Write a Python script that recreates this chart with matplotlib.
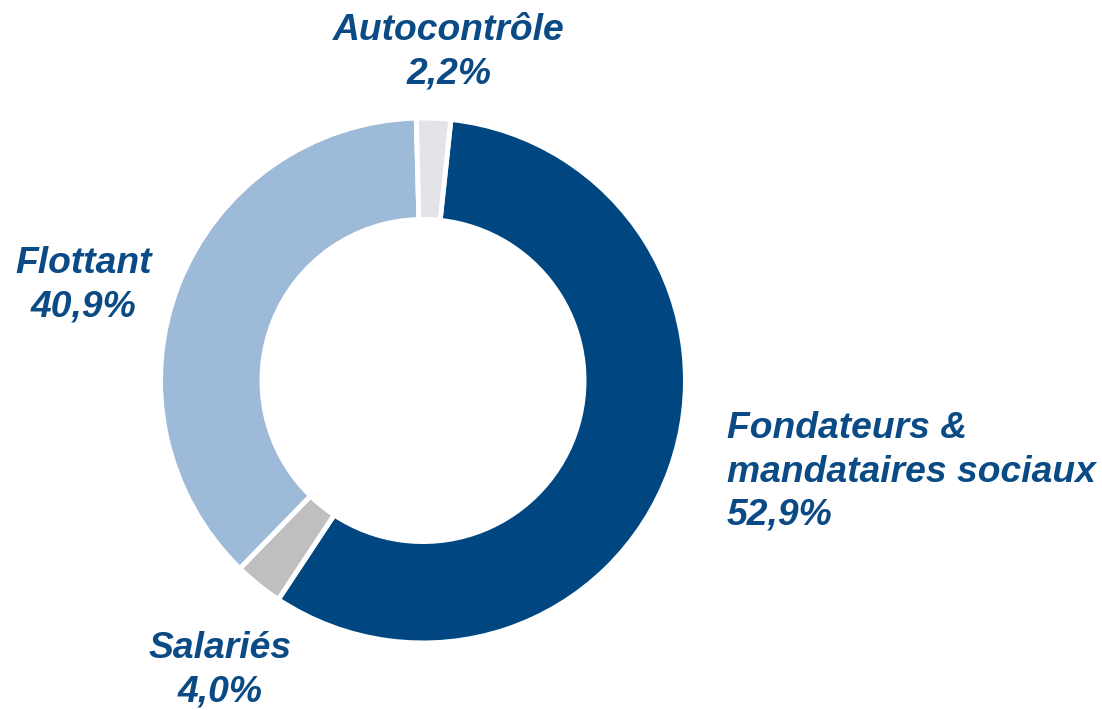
import matplotlib.pyplot as plt

# slice shares as drawn in the picture (clockwise from the top)
categories = ["Fondateurs &\nmandataires sociaux", "Salariés", "Flottant", "Autocontrôle"]
shares = [57.6, 3.0, 37.3, 2.1]
pct_labels = ["52,9%", "4,0%", "40,9%", "2,2%"]
colors = ["#004781", "#BFBFBF", "#9DBAD9", "#E4E3E8"]

W, H = 1102, 710
fig = plt.figure(figsize=(W / 100, H / 100), dpi=100)
ax = fig.add_axes([0, 0, 1, 1])

ax.pie(
    shares,
    colors=colors,
    startangle=83.9,
    counterclock=False,
    center=(423, H - 380.5),
    radius=262.5,
    wedgeprops=dict(width=101.5, edgecolor="white", linewidth=3.6),
)
ax.set_xlim(0, W)
ax.set_ylim(0, H)
ax.set_aspect("equal")
ax.axis("off")

txt = dict(color="#0A4A85", fontsize=26.8, fontweight="bold", fontstyle="italic",
           family=["Liberation Sans", "DejaVu Sans"], linespacing=1.3)

# label positions (x, y from top, alignment)
label_pos = [(727, 472, "left"), (220, 670, "center"), (84, 285, "center"), (449, 52, "center")]
for cat, pct, (x, y, ha) in zip(categories, pct_labels, label_pos):
    ax.text(x, H - y, f"{cat}\n{pct}", ha=ha, va="center", multialignment=ha, **txt)

fig.savefig("out.png", dpi=100)
